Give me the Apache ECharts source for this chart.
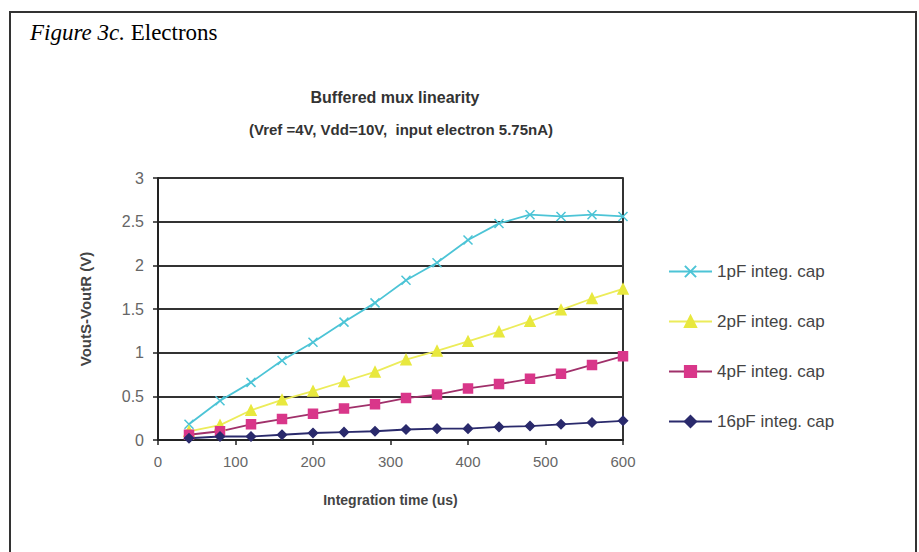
<!DOCTYPE html>
<html>
<head>
<meta charset="utf-8">
<script src="https://cdn.jsdelivr.net/npm/echarts@6/dist/echarts.min.js"></script>
<style>
  html, body { margin: 0; padding: 0; background: #fff; }
  #chart { width: 919px; height: 552px; }
</style>
</head>
<body>
<div id="chart"></div>
<script>
// integration time (us)
const times = [40, 80, 120, 160, 200, 240, 280, 320, 360, 400, 440, 480, 520, 560, 600]
// VoutS-VoutR (V)
const cap1pF = [0.18, 0.45, 0.66, 0.91, 1.12, 1.35, 1.57, 1.83, 2.03, 2.29, 2.48, 2.58, 2.56, 2.58, 2.56]
const cap2pF = [0.10, 0.17, 0.34, 0.46, 0.56, 0.67, 0.78, 0.92, 1.02, 1.13, 1.24, 1.36, 1.49, 1.62, 1.73]
const cap4pF = [0.06, 0.10, 0.18, 0.24, 0.30, 0.36, 0.41, 0.48, 0.52, 0.59, 0.64, 0.70, 0.76, 0.86, 0.96]
const cap16pF = [0.02, 0.04, 0.04, 0.06, 0.08, 0.09, 0.10, 0.12, 0.13, 0.13, 0.15, 0.16, 0.18, 0.20, 0.22]
const seriesNames = ['1pF integ. cap', '2pF integ. cap', '4pF integ. cap', '16pF integ. cap']

const font = 'Liberation Sans, Arial, sans-serif'
const pairs = (vals) => times.map((t, i) => [t, vals[i]])

var myChart = echarts.init(document.getElementById('chart'), null, {renderer: 'svg'})

const mk = (name, vals, color, lineColor, symbol, size) => ({
  name: name,
  type: 'line',
  data: pairs(vals),
  symbol: symbol,
  symbolSize: size,
  lineStyle: {color: lineColor, width: 1.8},
  itemStyle: {color: color, borderColor: color, borderWidth: 1.5},
  emphasis: {disabled: true}
})

myChart.setOption({
  animation: false,
  textStyle: {fontFamily: font},
  title: [
    {
      text: 'Buffered mux linearity',
      left: 390, top: 84, textAlign: 'center',
      textStyle: {fontSize: 16, fontWeight: 'bold', color: '#333', fontFamily: font}
    },
    {
      text: '(Vref =4V, Vdd=10V,  input electron 5.75nA)',
      left: 396, top: 117, textAlign: 'center',
      textStyle: {fontSize: 15, fontWeight: 'bold', color: '#333', fontFamily: font}
    }
  ],
  graphic: [
    {
      type: 'rect', silent: true,
      shape: {x: 10, y: 12, width: 906, height: 600},
      style: {fill: 'none', stroke: '#333', lineWidth: 2}
    },
    {
      type: 'text', left: 30, top: 21,
      style: {
        text: '{i|Figure 3c.} Electrons',
        rich: {i: {fontStyle: 'italic', fontSize: 23, fontFamily: 'Liberation Serif', fill: '#000'}},
        fontSize: 23, fontFamily: 'Liberation Serif', fill: '#000'
      }
    }
  ],
  legend: {
    orient: 'vertical',
    left: 663, top: 258,
    itemWidth: 43, itemHeight: 14, itemGap: 33,
    textStyle: {fontSize: 17, lineHeight: 17, color: '#444', fontFamily: font},
    data: seriesNames
  },
  grid: {left: 158, right: 296, top: 178, bottom: 112},
  xAxis: {
    type: 'value', min: 0, max: 600, interval: 100,
    name: 'Integration time (us)', nameLocation: 'middle', nameGap: 53,
    nameTextStyle: {fontSize: 14, fontWeight: 'bold', color: '#444', fontFamily: font},
    axisLine: {onZero: false, lineStyle: {color: '#222', width: 2}},
    axisTick: {inside: false, length: 5, lineStyle: {color: '#222', width: 1.5}},
    axisLabel: {fontSize: 15, color: '#666', margin: 14, fontFamily: font},
    splitLine: {show: false}
  },
  yAxis: [
    {
      type: 'value', min: 0, max: 3, interval: 0.5,
      name: 'VoutS-VoutR (V)', nameLocation: 'middle', nameGap: 65, nameRotate: 90,
      nameTextStyle: {fontSize: 15, fontWeight: 'bold', color: '#444', fontFamily: font},
      axisLine: {show: true, lineStyle: {color: '#222', width: 2}},
      axisTick: {show: true, inside: false, length: 5, lineStyle: {color: '#222', width: 1.5}},
      axisLabel: {fontSize: 16, color: '#666', margin: 14, fontFamily: font},
      splitLine: {show: true, lineStyle: {color: '#333', width: 2}}
    },
    {
      type: 'value', min: 0, max: 3, position: 'right',
      axisLine: {show: true, lineStyle: {color: '#333', width: 2}},
      axisTick: {show: false}, axisLabel: {show: false}, splitLine: {show: false}
    }
  ],
  series: [
    mk(seriesNames[0], cap1pF, '#4cc4d6', '#4cc4d6', 'path://M0,0 L10,10 M10,0 L0,10', 9),
    mk(seriesNames[1], cap2pF, '#e8e83e', '#ecec5a', 'triangle', 10),
    mk(seriesNames[2], cap4pF, '#d9378a', '#a0306a', 'rect', 9),
    mk(seriesNames[3], cap16pF, '#2a2a6c', '#2a2a6c', 'diamond', 9)
  ]
});
</script>
</body>
</html>
